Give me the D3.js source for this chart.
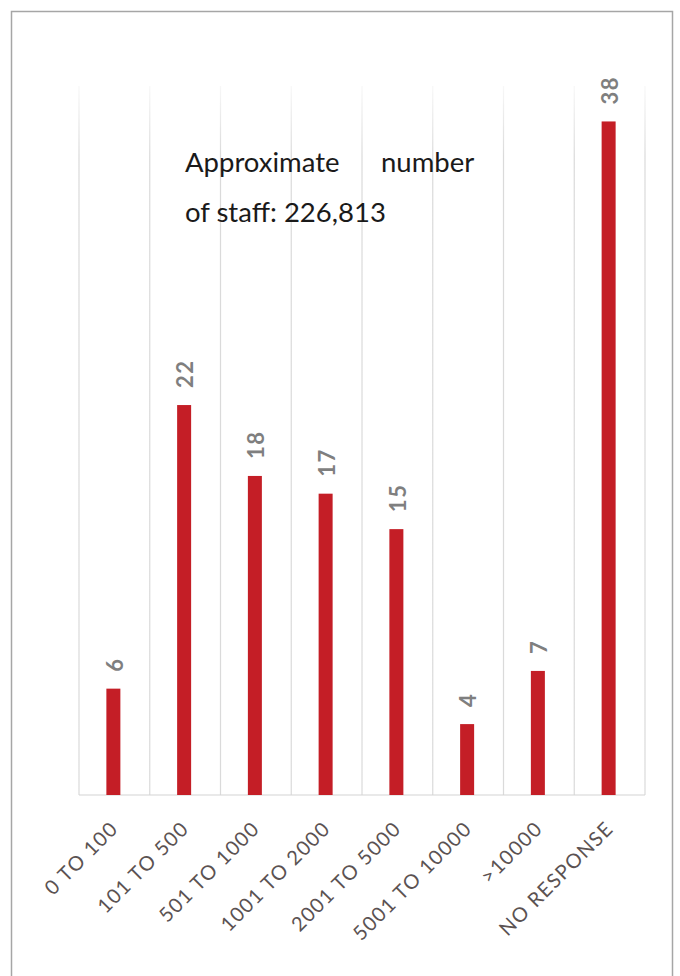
<!DOCTYPE html>
<html>
<head>
<meta charset="utf-8">
<script src="https://cdn.jsdelivr.net/npm/d3@7"></script>
<style>
  html, body { margin: 0; padding: 0; background: #ffffff; }
  svg { display: block; }
</style>
</head>
<body>
<script>
// ---- data ----
const categories = ["0 TO 100", "101 TO 500", "501 TO 1000", "1001 TO 2000", "2001 TO 5000", "5001 TO 10000", ">10000", "NO RESPONSE"];
const values = [6, 22, 18, 17, 15, 4, 7, 38];
const titleLine1a = "Approximate";
const titleLine1b = "number";
const titleLine2 = "of staff: 226,813";

const W = 680, H = 976;
const svg = d3.select("body").append("svg").attr("width", W).attr("height", H);

// frame
svg.append("rect")
  .attr("x", 11.5).attr("y", 11.5).attr("width", 661).attr("height", 1000)
  .attr("fill", "none").attr("stroke", "#a6a6a6").attr("stroke-width", 1.5);

const plotLeft = 79, plotRight = 645, plotTop = 86, baseY = 795;

const x = d3.scaleBand().domain(categories).range([plotLeft, plotRight]).padding(0);
const y = d3.scaleLinear().domain([0, 40]).range([baseY, plotTop]);
const bw = x.bandwidth();

// vertical gridlines at band edges (fading in at the top)
const defs = svg.append("defs");
const grad = defs.append("linearGradient").attr("id", "gridFade")
  .attr("gradientUnits", "userSpaceOnUse")
  .attr("x1", 0).attr("y1", y(40)).attr("x2", 0).attr("y2", y(36));
grad.append("stop").attr("offset", 0).attr("stop-color", "#dadada").attr("stop-opacity", 0.2);
grad.append("stop").attr("offset", 1).attr("stop-color", "#dadada").attr("stop-opacity", 1);

const edges = categories.map(c => x(c)).concat([x(categories[categories.length - 1]) + bw]);
svg.append("g").selectAll("rect").data(edges).join("rect")
  .attr("x", d => d - 0.6).attr("width", 1.2)
  .attr("y", y(40)).attr("height", y(0) - y(40))
  .attr("fill", "url(#gridFade)");

// baseline
svg.append("line")
  .attr("x1", plotLeft).attr("x2", plotRight)
  .attr("y1", y(0)).attr("y2", y(0))
  .attr("stroke", "#d4d4d4").attr("stroke-width", 1.2);

const barW = 14;
const data = categories.map((c, i) => ({ c, v: values[i] }));

svg.append("g").selectAll("rect").data(data).join("rect")
  .attr("x", d => x(d.c) + bw / 2 - 1 - barW / 2)
  .attr("y", d => y(d.v))
  .attr("width", barW)
  .attr("height", d => y(0) - y(d.v))
  .attr("fill", "#c41e26");

// value labels (rotated)
svg.append("g").selectAll("text").data(data).join("text")
  .attr("transform", d => `translate(${x(d.c) + bw / 2 + 0.5},${y(d.v) - 17}) rotate(-90)`)
  .attr("dy", "0.35em")
  .attr("text-anchor", "start")
  .attr("font-family", "Lato, 'Open Sans', sans-serif")
  .attr("font-weight", 700)
  .attr("font-size", 22)
  .attr("letter-spacing", 1.5)
  .attr("fill", "#7f7f7f")
  .text(d => d.v);

// x axis labels
const xAxis = d3.axisBottom(x).tickSize(0).tickPadding(0);
const gx = svg.append("g").attr("transform", `translate(0,${baseY})`).call(xAxis);
gx.select(".domain").remove();
gx.selectAll(".tick text")
  .attr("y", 0).attr("dy", "0.35em")
  .attr("transform", "translate(0,30) rotate(-45)")
  .attr("text-anchor", "end")
  .attr("font-family", "Lato, 'Open Sans', sans-serif")
  .attr("font-size", 20)
  .attr("letter-spacing", 1.3)
  .attr("fill", "#5b5252");

// title annotation
const tg = svg.append("g")
  .attr("font-family", "Lato, 'Open Sans', sans-serif")
  .attr("font-size", 27.5)
  .attr("fill", "#1a1a1a");
tg.append("text").attr("x", 185).attr("y", 172).text(titleLine1a);
tg.append("text").attr("x", 381).attr("y", 172).text(titleLine1b);
tg.append("text").attr("x", 185).attr("y", 222).text(titleLine2);
</script>
</body>
</html>
